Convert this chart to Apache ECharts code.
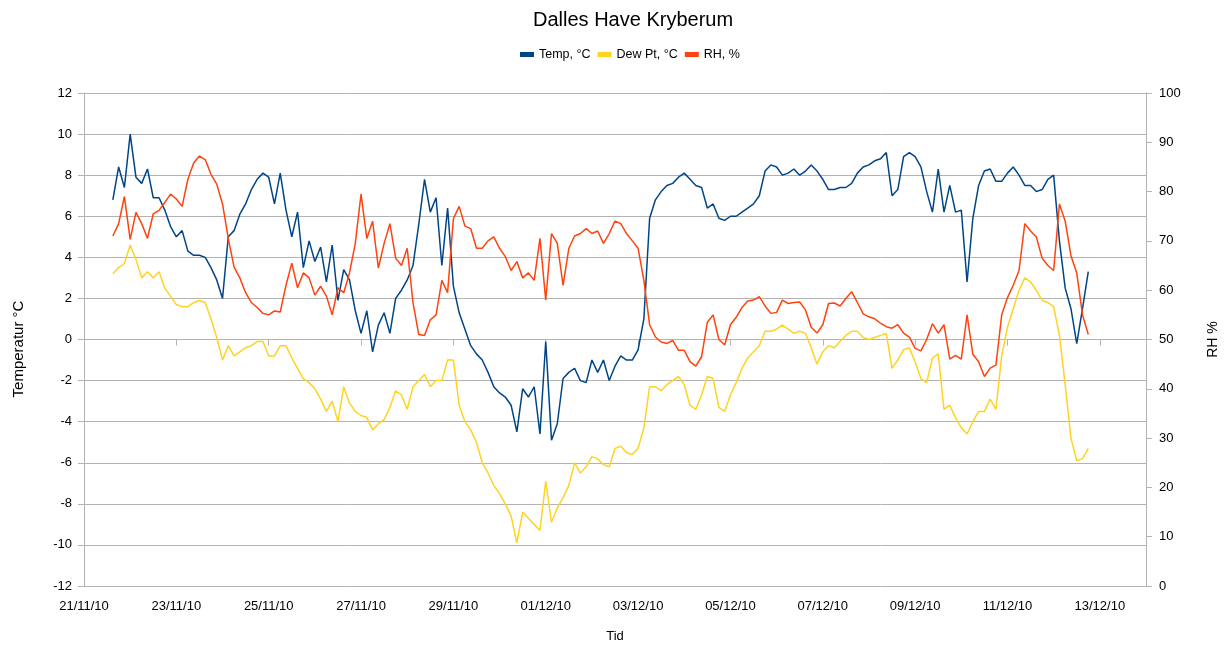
<!DOCTYPE html>
<html>
<head>
<meta charset="utf-8">
<title>Dalles Have Kryberum</title>
<script src="https://cdn.jsdelivr.net/npm/echarts@6/dist/echarts.min.js"></script>
<style>
  html, body { margin: 0; padding: 0; background: #fff; }
  #chart { width: 1227px; height: 645px; }
</style>
</head>
<body>
<div id="chart"></div>
<script>
// Logger readings, one every 3 hours, first reading 21/11/10 15:00
const startDate = [2010, 10, 21];   // year, month (0-based), day of day 0 on the x axis
const firstSampleHour = 15;
const sampleHours = 3;

const seriesNames = ['Temp, °C', 'Dew Pt, °C', 'RH, %'];
const seriesColors = ['#004586', '#ffd320', '#ff420e'];

const tempC = [
  6.8, 8.4, 7.4, 10.0, 7.9, 7.6, 8.3, 6.9, 6.9, 6.3,
  5.5, 5.0, 5.3, 4.3, 4.1, 4.1, 4.0, 3.5, 2.9, 2.0,
  5.0, 5.3, 6.1, 6.6, 7.3, 7.8, 8.1, 7.9, 6.6, 8.1,
  6.3, 5.0, 6.2, 3.5, 4.8, 3.8, 4.5, 2.8, 4.6, 1.9,
  3.4, 2.9, 1.4, 0.3, 1.4, -0.6, 0.7, 1.3, 0.3, 2.0,
  2.4, 2.9, 3.6, 5.6, 7.8, 6.2, 6.9, 3.6, 6.4, 2.6,
  1.3, 0.5, -0.3, -0.7, -1.0, -1.6, -2.3, -2.6, -2.8, -3.2,
  -4.5, -2.4, -2.8, -2.3, -4.6, -0.1, -4.9, -4.1, -1.9, -1.6,
  -1.4, -2.0, -2.1, -1.0, -1.6, -1.0, -2.0, -1.3, -0.8, -1.0,
  -1.0, -0.5, 1.0, 5.9, 6.8, 7.2, 7.5, 7.6, 7.9, 8.1,
  7.8, 7.5, 7.4, 6.4, 6.6, 5.9, 5.8, 6.0, 6.0, 6.2,
  6.4, 6.6, 7.0, 8.2, 8.5, 8.4, 8.0, 8.1, 8.3, 8.0,
  8.2, 8.5, 8.2, 7.8, 7.3, 7.3, 7.4, 7.4, 7.6, 8.1,
  8.4, 8.5, 8.7, 8.8, 9.1, 7.0, 7.3, 8.9, 9.1, 8.9,
  8.4, 7.2, 6.2, 8.3, 6.2, 7.5, 6.2, 6.3, 2.8, 5.9,
  7.5, 8.2, 8.3, 7.7, 7.7, 8.1, 8.4, 8.0, 7.5, 7.5,
  7.2, 7.3, 7.8, 8.0, 4.8, 2.5, 1.5, -0.2, 1.5, 3.3
];

const dewPtC = [
  3.2, 3.5, 3.7, 4.6, 3.9, 3.0, 3.3, 3.0, 3.3, 2.5,
  2.1, 1.7, 1.6, 1.6, 1.8, 1.9, 1.8, 1.0, 0.1, -1.0,
  -0.3, -0.8, -0.6, -0.4, -0.3, -0.1, -0.1, -0.8, -0.8, -0.3,
  -0.3, -0.9, -1.4, -1.9, -2.1, -2.4, -2.9, -3.5, -3.0, -4.0,
  -2.3, -3.1, -3.5, -3.7, -3.8, -4.4, -4.1, -3.9, -3.3, -2.5,
  -2.7, -3.4, -2.3, -2.0, -1.7, -2.3, -2.0, -2.0, -1.0, -1.0,
  -3.2, -4.0, -4.4, -5.0, -6.0, -6.5, -7.1, -7.5, -8.0, -8.6,
  -9.9, -8.4, -8.7, -9.0, -9.3, -6.9, -8.9, -8.2, -7.7, -7.1,
  -6.0, -6.5, -6.2, -5.7, -5.8, -6.1, -6.2, -5.3, -5.2, -5.5,
  -5.6, -5.3, -4.3, -2.3, -2.3, -2.5, -2.2, -2.0, -1.8, -2.2,
  -3.2, -3.4, -2.7, -1.8, -1.9, -3.3, -3.5, -2.7, -2.1, -1.4,
  -0.9, -0.6, -0.3, 0.4, 0.4, 0.5, 0.7, 0.5, 0.3, 0.4,
  0.3, -0.4, -1.2, -0.6, -0.3, -0.4, -0.1, 0.2, 0.4, 0.4,
  0.1, 0.0, 0.1, 0.2, 0.3, -1.4, -1.0, -0.5, -0.4, -1.1,
  -1.9, -2.1, -0.9, -0.7, -3.4, -3.2, -3.8, -4.3, -4.6, -4.0,
  -3.5, -3.5, -2.9, -3.4, -0.8, 0.6, 1.5, 2.4, 3.0, 2.8,
  2.4, 1.9, 1.8, 1.6, 0.2, -2.2, -4.8, -5.9, -5.8, -5.3
];

const rhPct = [
  71.0, 73.5, 79.0, 70.3, 75.8, 73.5, 70.5, 75.5, 76.2, 77.8,
  79.5, 78.5, 77.0, 82.5, 85.8, 87.2, 86.5, 83.5, 81.5, 77.5,
  70.5, 64.7, 62.5, 59.5, 57.5, 56.5, 55.3, 55.0, 55.8, 55.6,
  61.0, 65.5, 60.5, 63.5, 62.5, 59.0, 60.8, 58.8, 55.0, 60.5,
  59.5, 63.5, 69.5, 79.5, 70.5, 74.0, 64.5, 69.5, 73.5, 66.5,
  65.0, 68.5, 57.5, 51.0, 50.8, 54.0, 55.0, 62.0, 59.5, 74.5,
  77.0, 73.0, 72.5, 68.5, 68.5, 70.0, 70.8, 68.5, 66.8, 64.0,
  65.8, 62.5, 63.5, 62.0, 70.5, 58.0, 71.5, 69.5, 61.0, 68.5,
  71.0, 71.5, 72.5, 71.5, 72.0, 69.5, 71.5, 74.0, 73.5, 71.5,
  70.0, 68.5, 62.0, 53.0, 50.5, 49.5, 49.2, 49.8, 47.8, 47.8,
  45.5, 44.6, 46.5, 53.5, 55.0, 50.0, 48.9, 53.0, 54.5, 56.5,
  57.8, 58.0, 58.7, 56.8, 55.3, 55.5, 58.0, 57.3, 57.5, 57.6,
  56.0, 52.5, 51.3, 53.0, 57.3, 57.4, 56.8, 58.3, 59.7, 57.5,
  55.2, 54.6, 54.2, 53.3, 52.6, 52.3, 53.0, 51.3, 50.5, 48.2,
  47.7, 50.0, 53.2, 51.3, 53.0, 46.0, 46.8, 46.0, 55.0, 47.0,
  45.5, 42.5, 44.2, 44.8, 55.0, 58.5, 61.0, 64.0, 73.5, 72.0,
  70.8, 66.5, 65.0, 64.0, 77.5, 74.0, 67.0, 63.5, 55.0, 51.0
];

// x positions in days since 21/11/10 00:00
function sampleDay(i) {
  return (firstSampleHour + i * sampleHours) / 24;
}
function pairs(values) {
  return values.map((v, i) => [sampleDay(i), v]);
}
function pad2(n) { return (n < 10 ? '0' : '') + n; }
function dayLabel(v) {
  if (Math.abs(v % 2) > 1e-6) return '';
  const d = new Date(startDate[0], startDate[1], startDate[2] + Math.round(v));
  return pad2(d.getDate()) + '/' + pad2(d.getMonth() + 1) + '/' + pad2(d.getFullYear() % 100);
}

const FONT = 'Liberation Sans, Arial, sans-serif';
const GRID_GREY = '#b3b3b3';

const chart = echarts.init(document.getElementById('chart'), null, { renderer: 'canvas' });

chart.setOption({
  animation: false,
  backgroundColor: '#ffffff',
  textStyle: { fontFamily: FONT, color: '#000' },
  title: {
    text: 'Dalles Have Kryberum',
    left: 528,
    top: 5,
    textStyle: { fontFamily: FONT, fontSize: 20, fontWeight: 'normal', color: '#000' }
  },
  legend: {
    left: 515,
    top: 43,
    icon: 'rect',
    itemWidth: 14,
    itemHeight: 5,
    itemGap: 7,
    textStyle: { fontFamily: FONT, fontSize: 12.5, color: '#000' },
    data: seriesNames
  },
  grid: { left: 84, right: 81, top: 93, bottom: 59, containLabel: false, outerBoundsMode: 'none' },
  xAxis: [
    {
      type: 'value',
      min: 0,
      max: 23,
      interval: 2,
      position: 'bottom',
      name: 'Tid',
      nameLocation: 'middle',
      nameGap: 44,
      nameTextStyle: { fontFamily: FONT, fontSize: 13, color: '#000' },
      axisLine: { show: false, onZero: false },
      axisTick: { show: false },
      splitLine: { show: false },
      axisLabel: {
        formatter: dayLabel,
        margin: 14,
        fontFamily: FONT,
        fontSize: 13,
        color: '#000',
        showMaxLabel: false
      }
    },
    {
      // line across the temperature zero with its day ticks
      type: 'value',
      min: 0,
      max: 23,
      interval: 2,
      position: 'bottom',
      axisLine: { show: true, onZero: true, onZeroAxisIndex: 0, lineStyle: { color: GRID_GREY, width: 1 } },
      axisTick: { show: true, inside: false, length: 6, lineStyle: { color: GRID_GREY } },
      axisLabel: { show: false },
      splitLine: { show: false }
    }
  ],
  yAxis: [
    {
      type: 'value',
      min: -12,
      max: 12,
      interval: 2,
      position: 'left',
      name: 'Temperatur °C',
      nameLocation: 'middle',
      nameGap: 58,
      nameRotate: 90,
      nameTextStyle: { fontFamily: FONT, fontSize: 15, color: '#000', padding: [0, 19, 0, 0] },
      axisLine: { show: true, onZero: false, lineStyle: { color: GRID_GREY } },
      axisTick: { show: true, inside: false, length: 6, lineStyle: { color: GRID_GREY } },
      splitLine: { show: true, lineStyle: { color: GRID_GREY, width: 1 } },
      axisLabel: { margin: 12, fontFamily: FONT, fontSize: 13, color: '#000' }
    },
    {
      type: 'value',
      min: 0,
      max: 100,
      interval: 10,
      position: 'right',
      name: 'RH %',
      nameLocation: 'middle',
      nameGap: 60,
      nameRotate: 90,
      nameTextStyle: { fontFamily: FONT, fontSize: 14, color: '#000' },
      axisLine: { show: true, onZero: false, lineStyle: { color: GRID_GREY } },
      axisTick: { show: true, inside: false, length: 6, lineStyle: { color: GRID_GREY } },
      splitLine: { show: false },
      axisLabel: { margin: 13, fontFamily: FONT, fontSize: 13, color: '#000' }
    }
  ],
  series: [
    {
      name: seriesNames[0], type: 'line', xAxisIndex: 0, yAxisIndex: 0,
      data: pairs(tempC), showSymbol: false, symbol: 'none',
      lineStyle: { color: seriesColors[0], width: 1.5 }, itemStyle: { color: seriesColors[0] }
    },
    {
      name: seriesNames[1], type: 'line', xAxisIndex: 0, yAxisIndex: 0,
      data: pairs(dewPtC), showSymbol: false, symbol: 'none',
      lineStyle: { color: seriesColors[1], width: 1.5 }, itemStyle: { color: seriesColors[1] }
    },
    {
      name: seriesNames[2], type: 'line', xAxisIndex: 0, yAxisIndex: 1,
      data: pairs(rhPct), showSymbol: false, symbol: 'none',
      lineStyle: { color: seriesColors[2], width: 1.5 }, itemStyle: { color: seriesColors[2] }
    }
  ]
});
</script>
</body>
</html>
